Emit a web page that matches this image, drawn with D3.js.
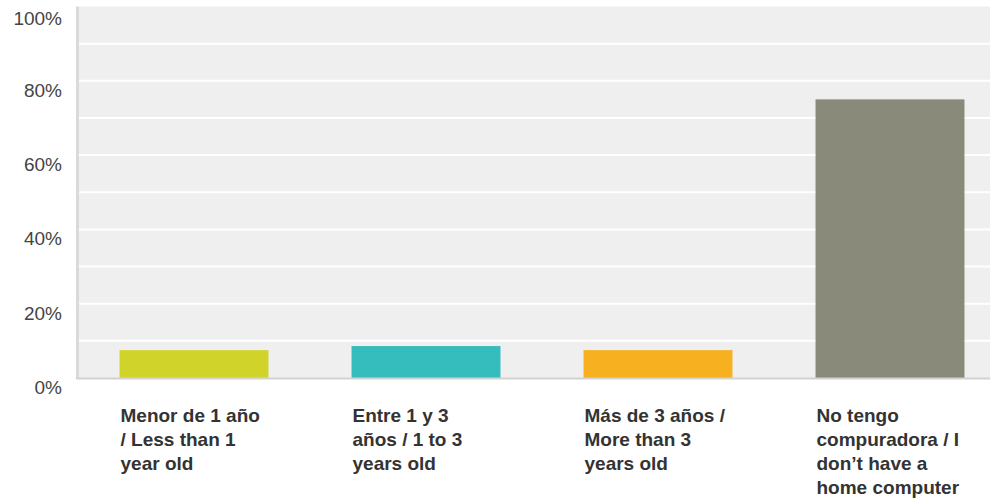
<!DOCTYPE html>
<html>
<head>
<meta charset="utf-8">
<script src="https://cdn.jsdelivr.net/npm/d3@7"></script>
<style>
  body { margin: 0; background: #fff; }
  svg { display: block; font-family: "Liberation Sans", Arial, sans-serif; }
</style>
</head>
<body>
<div id="chart"></div>
<script>
// Categories (answer options), each split into the lines shown under the bars
var categories = ["menor1", "entre1y3", "mas3", "nocomp"];
var categoryLines = [
    ["Menor de 1 año", "/ Less than 1", "year old"],
    ["Entre 1 y 3", "años / 1 to 3", "years old"],
    ["Más de 3 años /", "More than 3", "years old"],
    ["No tengo", "compuradora / I", "don’t have a", "home computer"]
];
// Percent of responses
var percents = [7.5, 8.6, 7.5, 75.0];
var barColors = ["#d0d42a", "#35bdbe", "#f7b01f", "#898a79"];
var tickValues = [0, 20, 40, 60, 80, 100];
var gridValues = [0, 10, 20, 30, 40, 50, 60, 70, 80, 90, 100];

var chartWidth = 990, chartHeight = 502;
var plotLeft = 78, plotTop = 6.5, plotBottom = 378;

var svg = d3.select("#chart")
            .append("svg")
            .attr("width", chartWidth)
            .attr("height", chartHeight);

// Scales
var xScale = d3.scaleBand()
               .domain(categories)
               .range([plotLeft, plotLeft + 928])
               .paddingInner(0.358)
               .paddingOuter(0.179);

var yScale = d3.scaleLinear()
               .domain([0, 100])
               .range([plotBottom, plotTop]);

// Plot background
svg.append("rect")
   .attr("x", plotLeft)
   .attr("y", yScale(100))
   .attr("width", chartWidth - plotLeft)
   .attr("height", yScale(0) - yScale(100))
   .attr("fill", "#efefef");

// White grid lines every 10%
svg.selectAll("line.grid")
   .data(gridValues.slice(1, -1))
   .enter()
   .append("line")
   .attr("class", "grid")
   .attr("x1", plotLeft)
   .attr("x2", chartWidth)
   .attr("y1", function(d) { return yScale(d); })
   .attr("y2", function(d) { return yScale(d); })
   .attr("stroke", "#ffffff")
   .attr("stroke-width", 2);

// Bars
svg.selectAll("rect.bar")
   .data(percents)
   .enter()
   .append("rect")
   .attr("class", "bar")
   .attr("x", function(d, i) { return xScale(categories[i]); })
   .attr("y", function(d) { return yScale(d); })
   .attr("width", xScale.bandwidth())
   .attr("height", function(d) { return yScale(0) - yScale(d); })
   .attr("fill", function(d, i) { return barColors[i]; });

// Axis lines
svg.append("line")
   .attr("x1", plotLeft - 0.5).attr("x2", plotLeft - 0.5)
   .attr("y1", yScale(100)).attr("y2", yScale(0) + 1)
   .attr("stroke", "#dadada")
   .attr("stroke-width", 3);

svg.append("line")
   .attr("x1", plotLeft - 2).attr("x2", chartWidth)
   .attr("y1", yScale(0) + 0.5).attr("y2", yScale(0) + 0.5)
   .attr("stroke", "#d2d2d2")
   .attr("stroke-width", 2);

// Y tick labels
svg.selectAll("text.ytick")
   .data(tickValues)
   .enter()
   .append("text")
   .attr("class", "ytick")
   .attr("x", 62)
   .attr("y", function(d) { return Math.max(yScale(d) + 16, 25); })
   .attr("text-anchor", "end")
   .attr("font-size", "19px")
   .attr("fill", "#444")
   .text(function(d) { return d + "%"; });

// Category labels, left aligned with each bar
var labels = svg.selectAll("text.xlabel")
   .data(categories)
   .enter()
   .append("text")
   .attr("class", "xlabel")
   .attr("x", function(d) { return xScale(d) + 1; })
   .attr("y", 421.5)
   .attr("font-size", "19px")
   .attr("font-weight", "bold")
   .attr("fill", "#333");

labels.selectAll("tspan")
   .data(function(d, i) { return categoryLines[i]; })
   .enter()
   .append("tspan")
   .attr("x", function() { return xScale(d3.select(this.parentNode).datum()) + 1; })
   .attr("dy", function(d, i) { return i === 0 ? 0 : 24.2; })
   .text(function(d) { return d; });
</script>
</body>
</html>
